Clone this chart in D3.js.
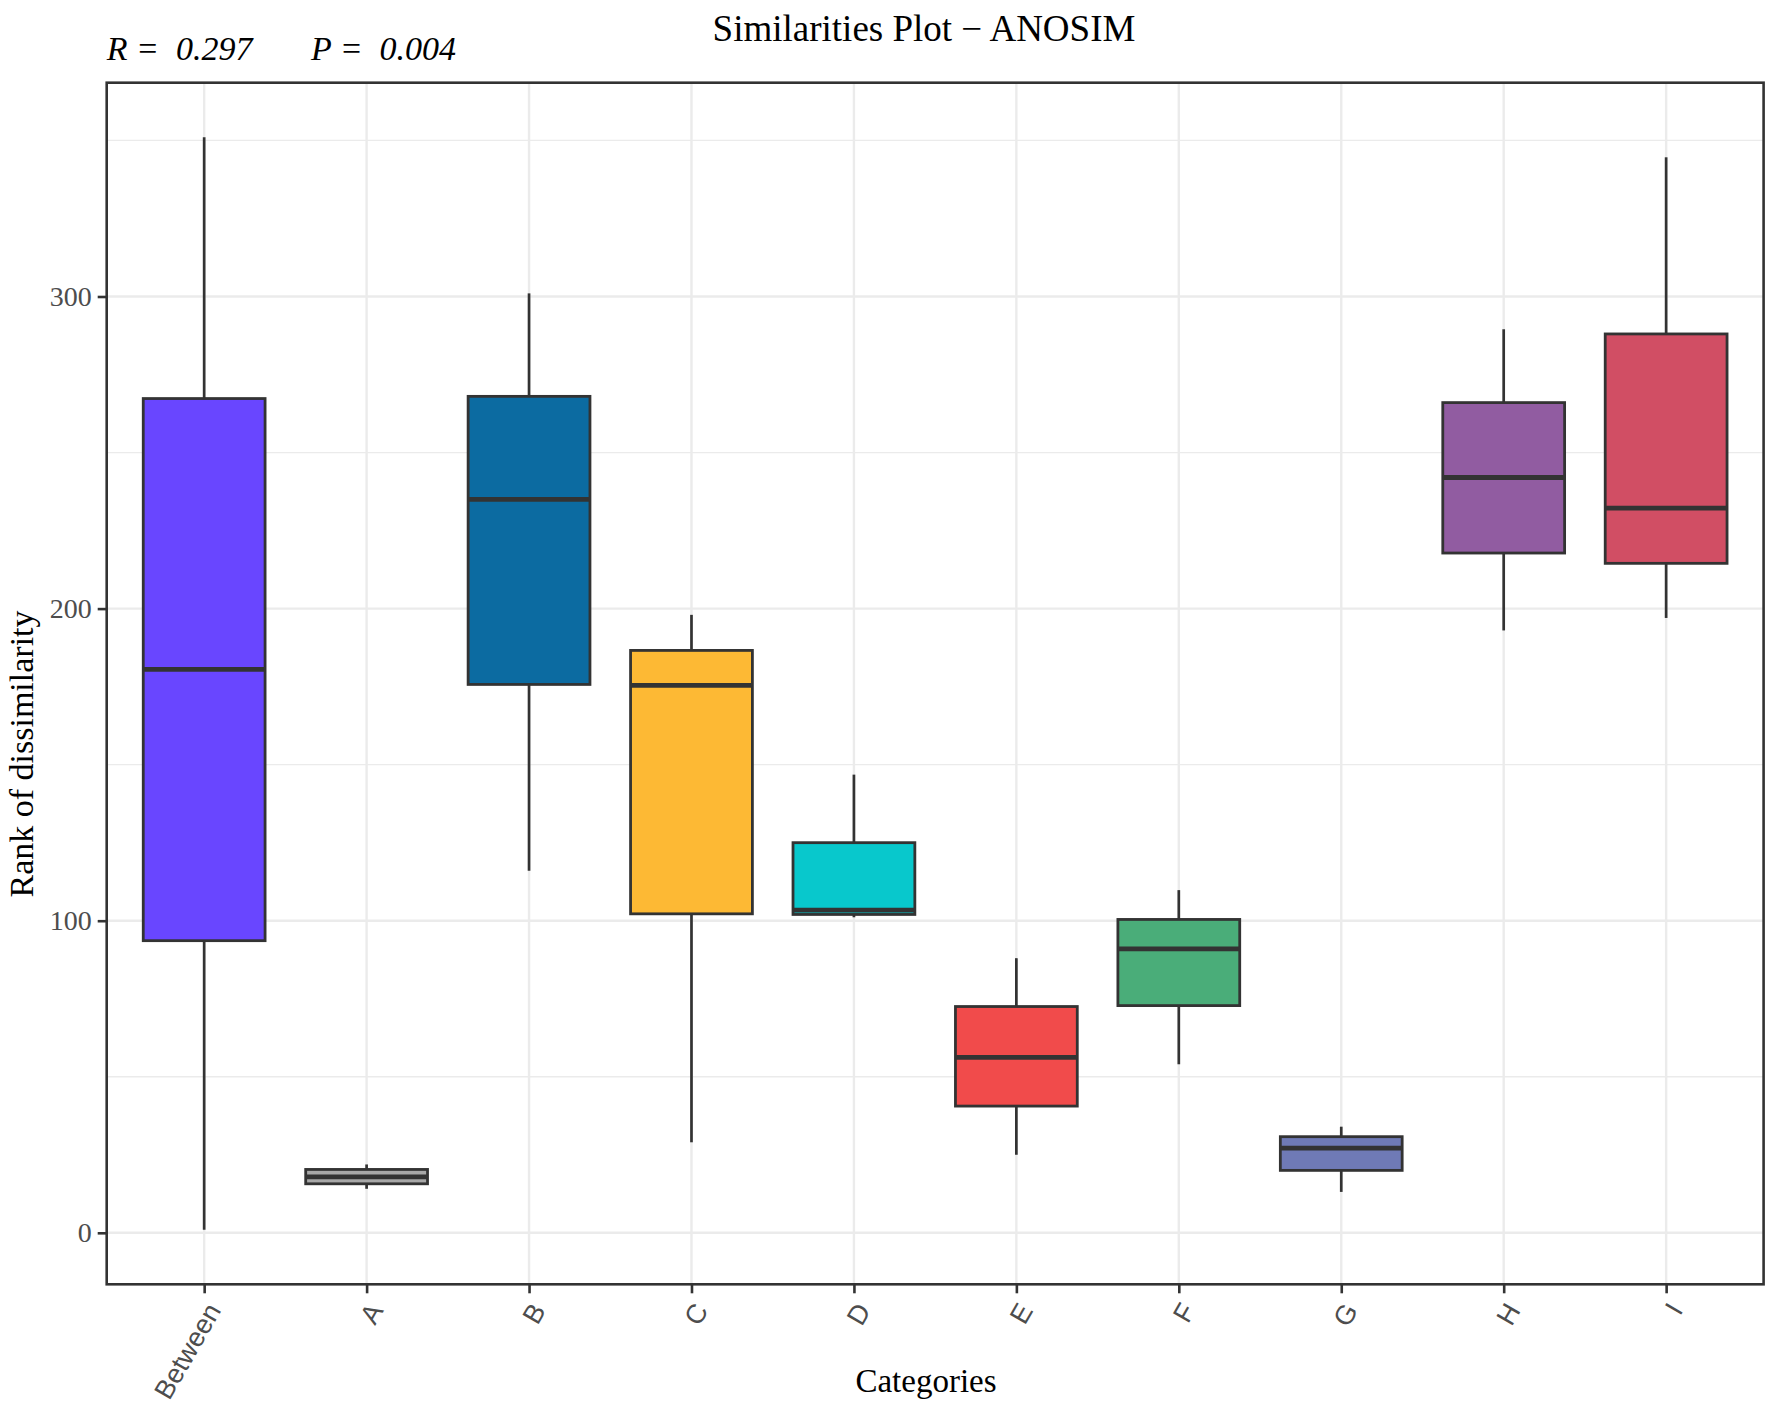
<!DOCTYPE html>
<html><head><meta charset="utf-8">
<script src="https://cdn.jsdelivr.net/npm/d3@7"></script>
<style>
html,body{margin:0;padding:0;background:#fff;}
text{white-space:pre;}
</style></head>
<body>
<svg id="chart" width="1772" height="1407"></svg>
<script>
const categories = ["Between","A","B","C","D","E","F","G","H","I"];
const whiskerLow  = [1,   14.1, 116,   29,    101.1, 25,   54,    13.1, 193,   197];
const q1          = [93.6,15.7, 175.7, 102.2, 102,   40.6, 72.8,  20,   217.8, 214.5];
const medians     = [180.5,17.9,235,   175.4, 103.4, 56.2, 91,    27.1, 242,   232.2];
const q3          = [267.3,20.3,268,   186.6, 125,   72.5, 100.4, 30.8, 266,   288];
const whiskerHigh = [351, 21.9, 301,   198,   146.8, 88,   109.8, 34,   289.5, 344.6];
const fills = ["#6946FF","#A8A8A8","#0C6BA1","#FDB934","#08C8CC","#F14B4B","#4AAD79","#6F7AB6","#915CA1","#D14E64"];
const yMajorTicks = [0,100,200,300];
const yMinorTicks = [50,150,250,350];

const W = 1772, H = 1407;
const panel = {left:106.7, right:1763.6, top:82.7, bottom:1284.3};
const svg = d3.select("#chart");

const dataMin = d3.min(whiskerLow), dataMax = d3.max(whiskerHigh);
const pad = (dataMax - dataMin) * 0.05;
const y = d3.scaleLinear().domain([dataMin - pad, dataMax + pad]).range([panel.bottom, panel.top]);
const x = d3.scalePoint().domain(categories).range([panel.left, panel.right]).padding(0.6);
const bw = x.step() * 0.75;

const grid = "#ebebeb";
svg.append("g").selectAll("line").data(yMinorTicks).join("line")
  .attr("x1", panel.left).attr("x2", panel.right)
  .attr("y1", d=>y(d)).attr("y2", d=>y(d))
  .attr("stroke", grid).attr("stroke-width", 1.3);
svg.append("g").selectAll("line").data(yMajorTicks).join("line")
  .attr("x1", panel.left).attr("x2", panel.right)
  .attr("y1", d=>y(d)).attr("y2", d=>y(d))
  .attr("stroke", grid).attr("stroke-width", 2.4);
svg.append("g").selectAll("line").data(categories).join("line")
  .attr("x1", d=>x(d)).attr("x2", d=>x(d))
  .attr("y1", panel.top).attr("y2", panel.bottom)
  .attr("stroke", grid).attr("stroke-width", 2.4);

const rows = categories.map((c,i)=>({c, lo:whiskerLow[i], q1:q1[i], med:medians[i], q3:q3[i], hi:whiskerHigh[i], fill:fills[i]}));
const dark = "#333333";
const g = svg.append("g");
g.selectAll(".wl").data(rows).join("line")
  .attr("x1", d=>x(d.c)).attr("x2", d=>x(d.c))
  .attr("y1", d=>y(d.lo)).attr("y2", d=>y(d.q1))
  .attr("stroke", dark).attr("stroke-width", 2.7);
g.selectAll(".wh").data(rows).join("line")
  .attr("x1", d=>x(d.c)).attr("x2", d=>x(d.c))
  .attr("y1", d=>y(d.hi)).attr("y2", d=>y(d.q3))
  .attr("stroke", dark).attr("stroke-width", 2.7);
g.selectAll("rect").data(rows).join("rect")
  .attr("x", d=>x(d.c)-bw/2).attr("width", bw)
  .attr("y", d=>y(d.q3)).attr("height", d=>y(d.q1)-y(d.q3))
  .attr("fill", d=>d.fill).attr("stroke", dark).attr("stroke-width", 2.8);
g.selectAll(".med").data(rows).join("line")
  .attr("x1", d=>x(d.c)-bw/2).attr("x2", d=>x(d.c)+bw/2)
  .attr("y1", d=>y(d.med)).attr("y2", d=>y(d.med))
  .attr("stroke", dark).attr("stroke-width", 4.8);

svg.append("rect").attr("x", panel.left).attr("y", panel.top)
  .attr("width", panel.right-panel.left).attr("height", panel.bottom-panel.top)
  .attr("fill","none").attr("stroke", dark).attr("stroke-width", 2.6);

const serif = "'Liberation Serif','Times New Roman',serif";
const yAxis = d3.axisLeft(y).tickValues(yMajorTicks).tickSize(9).tickPadding(6);
const ya = svg.append("g").attr("transform", `translate(${panel.left},0)`).call(yAxis);
ya.select(".domain").remove();
ya.selectAll(".tick line").attr("stroke", dark).attr("stroke-width", 2.6);
ya.selectAll(".tick text").attr("fill","#4d4d4d")
  .style("font-family", serif).style("font-size","28px");

const xAxis = d3.axisBottom(x).tickSize(9).tickPadding(0);
const xa = svg.append("g").attr("transform", `translate(0,${panel.bottom})`).call(xAxis);
xa.select(".domain").remove();
xa.selectAll(".tick line").attr("stroke", dark).attr("stroke-width", 2.6);
xa.selectAll(".tick text").attr("fill","#4d4d4d")
  .style("font-family","'Liberation Sans',Arial,sans-serif").style("font-size","27px")
  .attr("text-anchor","end").attr("dy", null).attr("y", null)
  .attr("transform","translate(17,26) rotate(-60)");

svg.append("text").attr("x", 924).attr("y", 41).attr("text-anchor","middle")
  .style("font-family", serif).style("font-size","37px").attr("fill","#000")
  .text("Similarities Plot \u2212 ANOSIM");
svg.append("text").attr("x", 106.7).attr("y", 60)
  .style("font-family", serif).style("font-size","34px").style("font-style","italic").attr("fill","#000")
  .text("R =  0.297");
svg.append("text").attr("x", 311).attr("y", 60)
  .style("font-family", serif).style("font-size","34px").style("font-style","italic").attr("fill","#000")
  .text("P =  0.004");
svg.append("text").attr("x", 926).attr("y", 1392).attr("text-anchor","middle")
  .style("font-family", serif).style("font-size","33px").attr("fill","#000")
  .text("Categories");
svg.append("text").attr("transform","translate(33,754) rotate(-90)").attr("text-anchor","middle")
  .style("font-family", serif).style("font-size","34px").attr("fill","#000")
  .text("Rank of dissimilarity");
</script>
</body></html>
